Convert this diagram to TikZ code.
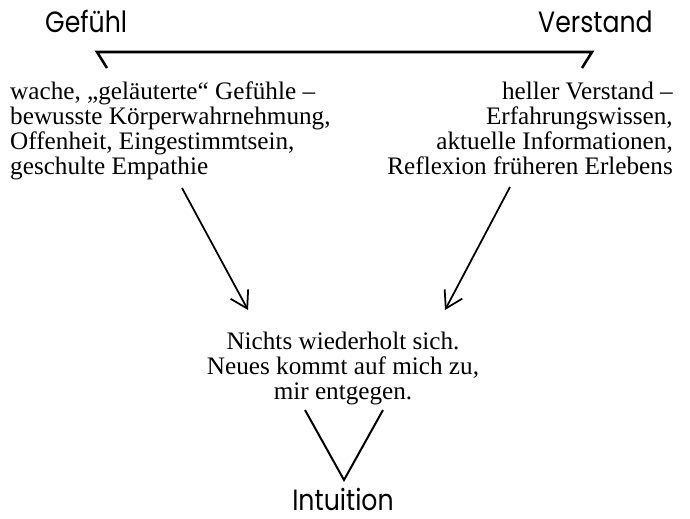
\documentclass[tikz,border=0pt]{standalone}
\usepackage{fontspec}
\setmainfont{Liberation Serif}
\newfontfamily\titelfont{Poppins}[FakeStretch=0.86]
\usetikzlibrary{arrows.meta}

\tikzset{
  titel/.style={font=\titelfont\fontsize{25}{30}\selectfont, inner sep=0pt},
  block/.style={font=\fontsize{21.5}{21.3}\selectfont, inner sep=0pt},
  pfeil/.style={line width=1.5pt, -{Straight Barb[length=14pt,width=17pt]}},
  linie/.style={line width=1.7pt},
  klammer/.style={line width=2.2pt},
}

\begin{document}
\begin{tikzpicture}
\useasboundingbox (0,0) rectangle (20.7,15.57);

\node[titel, anchor=base west] (gefuehl) at (1.35,14.58) {Gefühl};
\node[titel, anchor=base east] (verstand) at (19.59,14.58) {Verstand};

\coordinate (kl) at (3.21,13.53);
\coordinate (ol) at (2.91,14.01);
\coordinate (or) at (17.76,14.01);
\coordinate (kr) at (17.46,13.53);
\draw[klammer] (kl) -- (ol) -- (or) -- (kr);

\node[block, anchor=north west, align=left] (links) at (0.30,13.11)
  {wache, „geläuterte“ Gefühle –\\bewusste Körperwahrnehmung,\\Offenheit, Eingestimmtsein,\\geschulte Empathie};
\node[block, anchor=north east, align=right] (rechts) at (20.19,13.11)
  {heller Verstand –\\Erfahrungswissen,\\aktuelle Informationen,\\Reflexion früheren Erlebens};

\node[block, anchor=north, align=center] (neu) at (10.29,5.61)
  {Nichts wiederholt sich.\\Neues kommt auf mich zu,\\mir entgegen.};

% Pfeile zur Mitte
\coordinate (la) at (5.46,9.93);
\coordinate (le) at (7.44,6.27);
\coordinate (ra) at (15.30,9.96);
\coordinate (re) at (13.35,6.27);
\draw[pfeil] (la) -- (le);
\draw[pfeil] (ra) -- (re);

\coordinate (vl) at (9.15,3.27);
\coordinate (vu) at (10.32,1.17);
\coordinate (vr) at (11.49,3.27);
\draw[linie] (vl) -- (vu) -- (vr);

\node[titel, anchor=base] (intuition) at (10.29,0.24) {Intuition};
\end{tikzpicture}
\end{document}
